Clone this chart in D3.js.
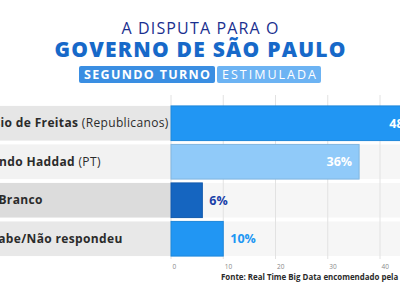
<!DOCTYPE html>
<html>
<head>
<meta charset="utf-8">
<script src="https://cdn.jsdelivr.net/npm/d3@7"></script>
<style>
  body { margin: 0; background: #fff; }
  svg { display: block; font-family: "Open Sans", sans-serif; }
</style>
</head>
<body>
<div id="chart"></div>
<script>
// data
var categories = ["Tarcísio de Freitas", "Fernando Haddad", "Nulo/Branco", "Não sabe/Não respondeu"];
var parties = ["(Republicanos)", "(PT)", "", ""];
var values = [48, 36, 6, 10];
var barColors = ["#2196f3", "#90caf9", "#1565c0", "#2196f3"];
var tickValues = [0, 10, 20, 30, 40];

var width = 400, height = 300;

var svg = d3.select("#chart").append("svg")
    .attr("width", width)
    .attr("height", height);

// scales
var xScale = d3.scaleLinear().domain([0, 40]).range([171, 380]);
var yScale = d3.scaleBand()
    .domain(categories)
    .range([104, 258])
    .paddingInner(0.1)
    .paddingOuter(0.05);

// title
svg.append("text")
    .attr("x", 200).attr("y", 33.5)
    .attr("text-anchor", "middle")
    .attr("textLength", 157)
    .style("font-size", "16px")
    .style("font-weight", 500)
    .style("fill", "#1a2f8f")
    .text("A DISPUTA PARA O");

svg.append("text")
    .attr("x", 200).attr("y", 57)
    .attr("text-anchor", "middle")
    .attr("textLength", 291)
    .style("font-size", "21px")
    .style("font-weight", 800)
    .style("fill", "#1769c9")
    .text("GOVERNO DE SÃO PAULO");

// pills
var pills = [
    { text: "SEGUNDO TURNO", x0: 79, x1: 215, fill: "#3a8ee2", weight: 700 },
    { text: "ESTIMULADA", x0: 217, x1: 321, fill: "#6cb3f3", weight: 400 }
];
pills.forEach(function(p) {
    svg.append("rect")
        .attr("x", p.x0).attr("y", 66)
        .attr("width", p.x1 - p.x0).attr("height", 17)
        .attr("rx", 2)
        .style("fill", p.fill);
    svg.append("text")
        .attr("x", (p.x0 + p.x1) / 2).attr("y", 79)
        .attr("text-anchor", "middle")
        .attr("textLength", p.x1 - p.x0 - 10)
        .style("font-size", "12.5px")
        .style("font-weight", p.weight)
        .style("fill", "#fff")
        .text(p.text);
});

// row backgrounds
var labelBg = ["#e6e6e6", "#f2f2f2", "#dcdcdc", "#e8e8e8"];
svg.selectAll(".labelBg")
    .data(categories)
    .enter().append("rect")
    .attr("x", 0)
    .attr("y", function(d) { return yScale(d); })
    .attr("width", xScale(0))
    .attr("height", yScale.bandwidth())
    .style("fill", function(d, i) { return labelBg[i]; });

svg.selectAll(".plotBg")
    .data(categories)
    .enter().append("rect")
    .attr("x", xScale(0))
    .attr("y", function(d) { return yScale(d); })
    .attr("width", width - xScale(0))
    .attr("height", yScale.bandwidth())
    .style("fill", "#f6f6f6");

// gridlines
svg.selectAll(".grid")
    .data(tickValues)
    .enter().append("line")
    .attr("x1", function(d) { return xScale(d); })
    .attr("x2", function(d) { return xScale(d); })
    .attr("y1", 95).attr("y2", 259)
    .style("stroke", "#e2e2e2")
    .style("stroke-width", 1);

// axis labels
var xAxis = svg.append("g")
    .attr("transform", "translate(0,259)")
    .call(d3.axisBottom(xScale).tickValues(tickValues).tickSize(0).tickPadding(5));
xAxis.select(".domain").remove();
xAxis.selectAll("text")
    .attr("text-anchor", "start")
    .attr("dx", 1)
    .style("font-family", "Open Sans, sans-serif")
    .style("font-size", "6.5px")
    .style("fill", "#8a8a8a");

// category labels
var labels = svg.selectAll(".catLabel")
    .data(categories)
    .enter().append("text")
    .attr("x", -37)
    .attr("y", function(d) { return yScale(d) + yScale.bandwidth() / 2 + 4; })
    .style("font-size", "12px")
    .style("letter-spacing", "0.35px")
    .style("fill", "#2b2b2b");
labels.append("tspan")
    .style("font-weight", 700)
    .text(function(d) { return d; });
labels.append("tspan")
    .style("font-weight", 400)
    .text(function(d, i) { return parties[i] ? " " + parties[i] : ""; });

// bars
svg.selectAll(".bar")
    .data(values)
    .enter().append("rect")
    .attr("x", xScale(0))
    .attr("y", function(d, i) { return yScale(categories[i]); })
    .attr("width", function(d) { return xScale(d) - xScale(0); })
    .attr("height", yScale.bandwidth())
    .style("fill", function(d, i) { return barColors[i]; })
    .style("stroke", function(d, i) { return d3.color(barColors[i]).darker(0.3); })
    .style("stroke-width", 1);

// value labels
svg.selectAll(".valLabel")
    .data(values)
    .enter().append("text")
    .attr("x", function(d) { return d > 20 ? xScale(d) - 7 : xScale(d) + 7; })
    .attr("y", function(d, i) { return yScale(categories[i]) + yScale.bandwidth() / 2 + 4.5; })
    .attr("text-anchor", function(d) { return d > 20 ? "end" : "start"; })
    .style("font-size", "12.5px")
    .style("font-weight", 700)
    .style("fill", function(d, i) { return d > 20 ? "#fff" : (i == 2 ? "#1a3fa8" : "#2196f3"); })
    .text(function(d) { return d + "%"; });

// source
svg.append("text")
    .attr("x", 221).attr("y", 280)
    .style("font-size", "7.9px")
    .style("font-weight", 700)
    .style("fill", "#2b2b2b")
    .text("Fonte: Real Time Big Data encomendado pela Record TV");
</script>
</body>
</html>
